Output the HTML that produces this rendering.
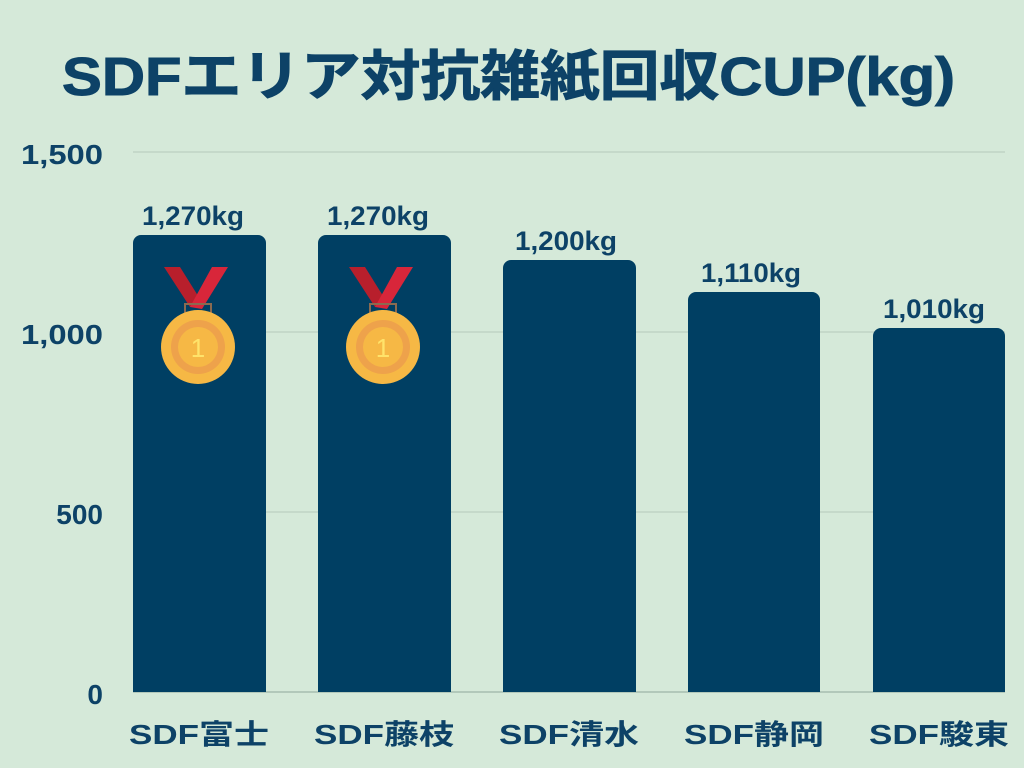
<!DOCTYPE html>
<html><head><meta charset="utf-8"><style>
html,body{margin:0;padding:0;background:#d5e9d9;}
svg{display:block;}
text{font-family:"Liberation Sans","Noto Sans CJK JP",sans-serif;font-weight:bold;fill:#0d4267;}
</style></head><body>
<svg width="1024" height="768" viewBox="0 0 1024 768">
<rect width="1024" height="768" fill="#d5e9d9"/>
<text x="62" y="95" font-size="54" textLength="893" lengthAdjust="spacingAndGlyphs" stroke="#0d4267" stroke-width="1">SDFエリア対抗雑紙回収CUP(kg)</text>
<g stroke="#b5c9bb" stroke-width="1">
<line x1="133" y1="152" x2="1005" y2="152"/>
<line x1="133" y1="332" x2="1005" y2="332"/>
<line x1="133" y1="512" x2="1005" y2="512"/>
</g>
<line x1="133" y1="692" x2="1005" y2="692" stroke="#8fa79a" stroke-width="1"/>
<g font-size="28" text-anchor="end">
<text x="103" y="164" textLength="82" lengthAdjust="spacingAndGlyphs">1,500</text>
<text x="103" y="344" textLength="82" lengthAdjust="spacingAndGlyphs">1,000</text>
<text x="103" y="524">500</text>
<text x="103" y="704">0</text>
</g>
<g fill="#003f63">
<path d="M133 692V243a8 8 0 0 1 8-8h117a8 8 0 0 1 8 8V692Z"/>
<path d="M318 692V243a8 8 0 0 1 8-8h117a8 8 0 0 1 8 8V692Z"/>
<path d="M503 692V268a8 8 0 0 1 8-8h117a8 8 0 0 1 8 8V692Z"/>
<path d="M688 692V300a8 8 0 0 1 8-8h116a8 8 0 0 1 8 8V692Z"/>
<path d="M873 692V336a8 8 0 0 1 8-8h116a8 8 0 0 1 8 8V692Z"/>
</g>
<g font-size="27" text-anchor="middle">
<text x="193" y="225" textLength="102" lengthAdjust="spacingAndGlyphs">1,270kg</text>
<text x="378" y="225" textLength="102" lengthAdjust="spacingAndGlyphs">1,270kg</text>
<text x="566" y="250" textLength="102" lengthAdjust="spacingAndGlyphs">1,200kg</text>
<text x="751" y="282" textLength="100" lengthAdjust="spacingAndGlyphs">1,110kg</text>
<text x="934" y="318" textLength="102" lengthAdjust="spacingAndGlyphs">1,010kg</text>
</g>
<defs>
<g id="medal">
<path d="M-34 -80 L-18 -80 L2 -48 L-8 -40 Z" fill="#b81f2c"/>
<path d="M30 -80 L14 -80 L-8 -40 L4 -38 Z" fill="#d8263a"/>
<rect x="-13" y="-43" width="26" height="10" fill="none" stroke="#8a6a50" stroke-width="2"/>
<circle cx="0" cy="0" r="37" fill="#f6b845"/>
<circle cx="0" cy="0" r="27" fill="#eea24b"/>
<circle cx="0" cy="0" r="20" fill="#f6b845"/>
<text x="0" y="10" font-size="26" text-anchor="middle" style="fill:#ffe36a;font-weight:normal">1</text>
</g>
</defs>
<use href="#medal" x="198" y="347"/>
<use href="#medal" x="383" y="347"/>
<g font-size="28" text-anchor="middle">
<text x="199" y="744" textLength="140" lengthAdjust="spacingAndGlyphs">SDF富士</text>
<text x="384" y="744" textLength="140" lengthAdjust="spacingAndGlyphs">SDF藤枝</text>
<text x="569" y="744" textLength="140" lengthAdjust="spacingAndGlyphs">SDF清水</text>
<text x="754" y="744" textLength="140" lengthAdjust="spacingAndGlyphs">SDF静岡</text>
<text x="939" y="744" textLength="140" lengthAdjust="spacingAndGlyphs">SDF駿東</text>
</g>
</svg>
</body></html>
